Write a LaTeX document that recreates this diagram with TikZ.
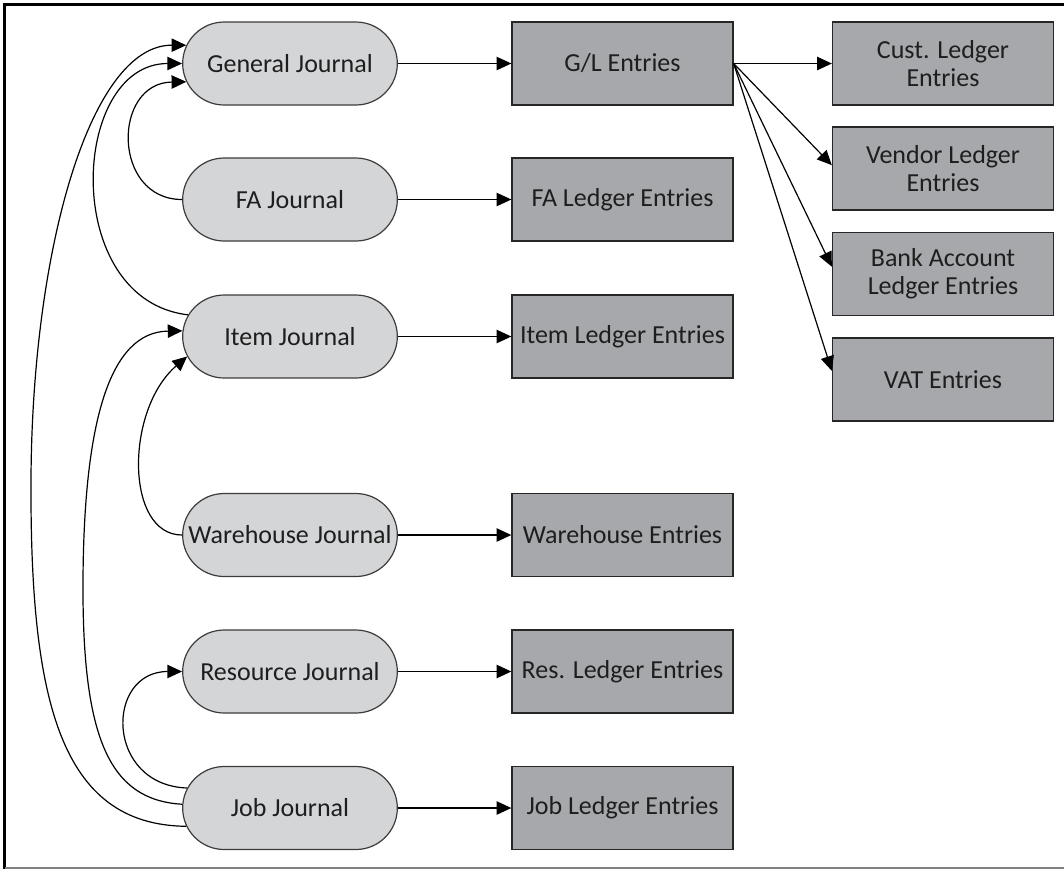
\documentclass[tikz,border=0pt]{standalone}
\usepackage{fontspec}
\setmainfont{Carlito}
\usetikzlibrary{shapes.misc,arrows.meta}
\definecolor{pillfill}{HTML}{D4D5D7}
\definecolor{boxfill}{HTML}{A7A8AB}
\definecolor{edgegray}{HTML}{3C3C3C}
\definecolor{txt}{HTML}{1E1E1E}
\begin{document}
\begin{tikzpicture}[x=0.75pt,y=-0.75pt,
  journal/.style={rounded rectangle, draw=edgegray, line width=0.9pt, fill=pillfill,
    minimum width=165pt, minimum height=62.25pt, inner xsep=2pt, text=txt,
    font=\fontsize{19.5}{21}\selectfont},
  ledger/.style={rectangle, draw=black!85, line width=1pt, fill=boxfill,
    minimum width=165.75pt, minimum height=62.25pt, inner xsep=2pt, align=center,
    text=txt, font=\fontsize{19.5}{21}\selectfont},
  link/.style={line width=0.9pt, -{Triangle[length=11pt,width=10pt]}},
]
\useasboundingbox (0,0) rectangle (1064,869);
\draw[line width=2.25pt] (4.5,869) -- (4.5,4.5) -- (1064,4.5);
\draw[gray, line width=1.5pt] (4.5,867.8) -- (1064,867.8);

% journals
\node[journal] (gj)   at (290,63.5)  {General Journal};
\node[journal] (fa)   at (290,199.5) {FA Journal};
\node[journal] (item) at (290,336.5) {Item Journal};
\node[journal] (wh)   at (290,535)   {Warehouse Journal};
\node[journal] (res)  at (290,671.5) {Resource Journal};
\node[journal] (job)  at (290,808)   {Job Journal};

% ledgers
\node[ledger] (gl)   at (622.5,63.5)  {G/L Entries};
\node[ledger] (fal)  at (622.5,199.5) {FA Ledger Entries};
\node[ledger] (il)   at (622.5,336.5) {Item Ledger Entries};
\node[ledger] (whe)  at (622.5,535)   {Warehouse Entries};
\node[ledger] (rl)   at (622.5,671.5) {Res. Ledger Entries};
\node[ledger] (jl)   at (622.5,808)   {Job Ledger Entries};

\node[ledger] (cust)   at (943,63.5)  {Cust. Ledger\\Entries};
\node[ledger] (vendor) at (943,168.5) {Vendor Ledger\\Entries};
\node[ledger] (bank)   at (943,274)   {Bank Account\\Ledger Entries};
\node[ledger] (vat)    at (943,379.5) {VAT Entries};

% straight connectors
\draw[link] (gj.east) -- (gl.west);
\draw[link] (fa.east) -- (fal.west);
\draw[link] (item.east) -- (il.west);
\draw[link] (wh.east) -- (whe.west);
\draw[link] (res.east) -- (rl.west);
\draw[link] (job.east) -- (jl.west);

\draw[link] (gl.east) -- (cust.west);
\draw[link] (gl.east) -- ([yshift=2.5pt]vendor.west);
\draw[link] (gl.east) -- ([yshift=5.5pt]bank.west);
\draw[link] (gl.east) -- ([yshift=6.5pt]vat.west);

% curved connectors
\draw[link] (fa.west) .. controls (112,199.5) and (112,83) .. (gj.190);
\draw[link] (item.168) .. controls (60,300) and (70,63.5) .. (gj.west);
\draw[link] (job.190) .. controls (60,825) and (30,700) .. (31,480)
  .. controls (32,250) and (90,45) .. (gj.170);
\draw[link] (wh.west) .. controls (125,535) and (125,410) .. (item.191);
\draw[link] (job.178) .. controls (110,800) and (82,740) .. (83,580)
  .. controls (84,420) and (110,332) .. (item.177);
\draw[link] (job.169) .. controls (105,785) and (105,671.5) .. (res.west);
\end{tikzpicture}
\end{document}
